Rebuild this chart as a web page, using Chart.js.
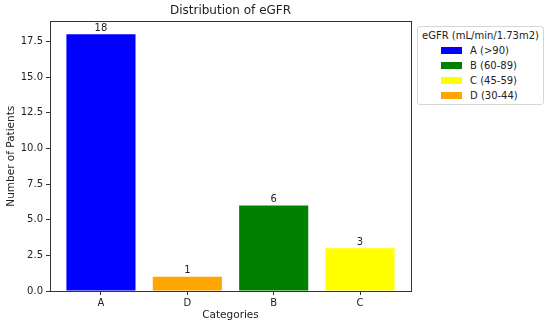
<!DOCTYPE html>
<html>
<head>
<meta charset="utf-8">
<script src="https://cdn.jsdelivr.net/npm/chart.js@4/dist/chart.umd.min.js"></script>
<style>
  html, body { margin: 0; padding: 0; background: #fff; }
  #wrap { position: relative; width: 550px; height: 325px; }
  #legend {
    position: absolute; left: 417px; top: 26px; width: 127px; height: 79px;
    border: 1px solid #d6d6d6; border-radius: 3px; background: #fff;
    font-family: "DejaVu Sans", sans-serif; font-size: 10px; color: #222;
    box-sizing: border-box;
  }
  #legend .ttl { text-align: center; margin-top: 1px; height: 15px; line-height: 15px; white-space: nowrap; }
  #legend .row { height: 15.1px; line-height: 15.1px; padding-left: 23px; white-space: nowrap; }
  #legend .sw { display: inline-block; width: 21px; height: 7px; margin-right: 8px; vertical-align: 0px; }
</style>
</head>
<body>
<div id="wrap">
  <canvas id="c" width="550" height="325"></canvas>
  <div id="legend"></div>
</div>
<script>
// bar order as plotted
const categories = ['A', 'D', 'B', 'C'];
const patients = [18, 1, 6, 3];
const barColors = ['#0000ff', '#ffa500', '#008000', '#ffff00'];
const yTicks = [0, 2.5, 5, 7.5, 10, 12.5, 15, 17.5];

// legend entries
const legendLabels = ['A (>90)', 'B (60-89)', 'C (45-59)', 'D (30-44)'];
const legendColors = ['#0000ff', '#008000', '#ffff00', '#ffa500'];
const legendTitle = 'eGFR (mL/min/1.73m2)';

const FONT = '"DejaVu Sans", sans-serif';
const INK = '#222';

// html legend
const lg = document.getElementById('legend');
lg.innerHTML = `<div class="ttl">${legendTitle}</div>` + legendLabels.map((t, i) =>
    `<div class="row"><span class="sw" style="background:${legendColors[i]}"></span>${t.replace('>', '&gt;')}</div>`
).join('');

// frame on all four sides + value labels on bars
const framePlugin = {
    id: 'frame',
    afterDraw(chart) {
        const { ctx, chartArea: a } = chart;
        ctx.save();
        ctx.strokeStyle = '#333';
        ctx.lineWidth = 1;
        ctx.strokeRect(Math.round(a.left) + 0.5, Math.round(a.top) + 0.5,
            Math.round(a.right - a.left), Math.round(a.bottom - a.top));
        ctx.restore();
    },
    afterDatasetsDraw(chart) {
        const { ctx } = chart;
        const meta = chart.getDatasetMeta(0);
        ctx.save();
        ctx.font = '10px ' + FONT;
        ctx.fillStyle = INK;
        ctx.textAlign = 'center';
        ctx.textBaseline = 'bottom';
        meta.data.forEach((bar, i) => {
            ctx.fillText(String(patients[i]), bar.x, bar.y - 1);
        });
        ctx.restore();
    }
};

new Chart(document.getElementById('c'), {
    type: 'bar',
    data: {
        datasets: [{
            data: patients.map((v, i) => ({ x: i, y: v })),
            backgroundColor: barColors,
            borderWidth: 0,
            barPercentage: 0.8,
            categoryPercentage: 1.0,
        }]
    },
    options: {
        responsive: false,
        animation: false,
        layout: { padding: { left: 0, right: 139, top: 0, bottom: 0 } },
        plugins: {
            legend: { display: false },
            tooltip: { enabled: false },
            title: {
                display: true,
                text: 'Distribution of eGFR',
                fullSize: false,
                color: INK,
                font: { family: FONT, size: 12, weight: 'normal' },
                padding: { top: 4, bottom: 3 }
            }
        },
        scales: {
            x: {
                type: 'linear',
                min: -0.59,
                max: 3.59,
                offset: false,
                afterBuildTicks: s => { s.ticks = categories.map((c, i) => ({ value: i })); },
                afterFit: s => { s.height = 34; },
                ticks: {
                    color: INK, font: { family: FONT, size: 10 }, padding: 2,
                    autoSkip: false, maxRotation: 0,
                    callback: v => categories[v]
                },
                grid: { display: true, offset: false, drawOnChartArea: false, tickLength: 4, color: '#333' },
                border: { color: '#333' },
                title: {
                    display: true, text: 'Categories', color: INK,
                    font: { family: FONT, size: 10.5 }, padding: { top: 2, bottom: 3 }
                }
            },
            y: {
                min: 0,
                max: 18.9,
                afterBuildTicks: s => { s.ticks = yTicks.map(v => ({ value: v })); },
                afterFit: s => { s.width = 50; },
                ticks: {
                    color: INK, font: { family: FONT, size: 10 }, padding: 3,
                    callback: v => v.toFixed(1)
                },
                grid: { display: true, drawOnChartArea: false, tickLength: 4, color: '#333' },
                border: { color: '#333' },
                title: {
                    display: true, text: 'Number of Patients', color: INK,
                    font: { family: FONT, size: 10.5 }, padding: { top: 5, bottom: 0 }
                }
            }
        }
    },
    plugins: [framePlugin]
});
</script>
</body>
</html>
